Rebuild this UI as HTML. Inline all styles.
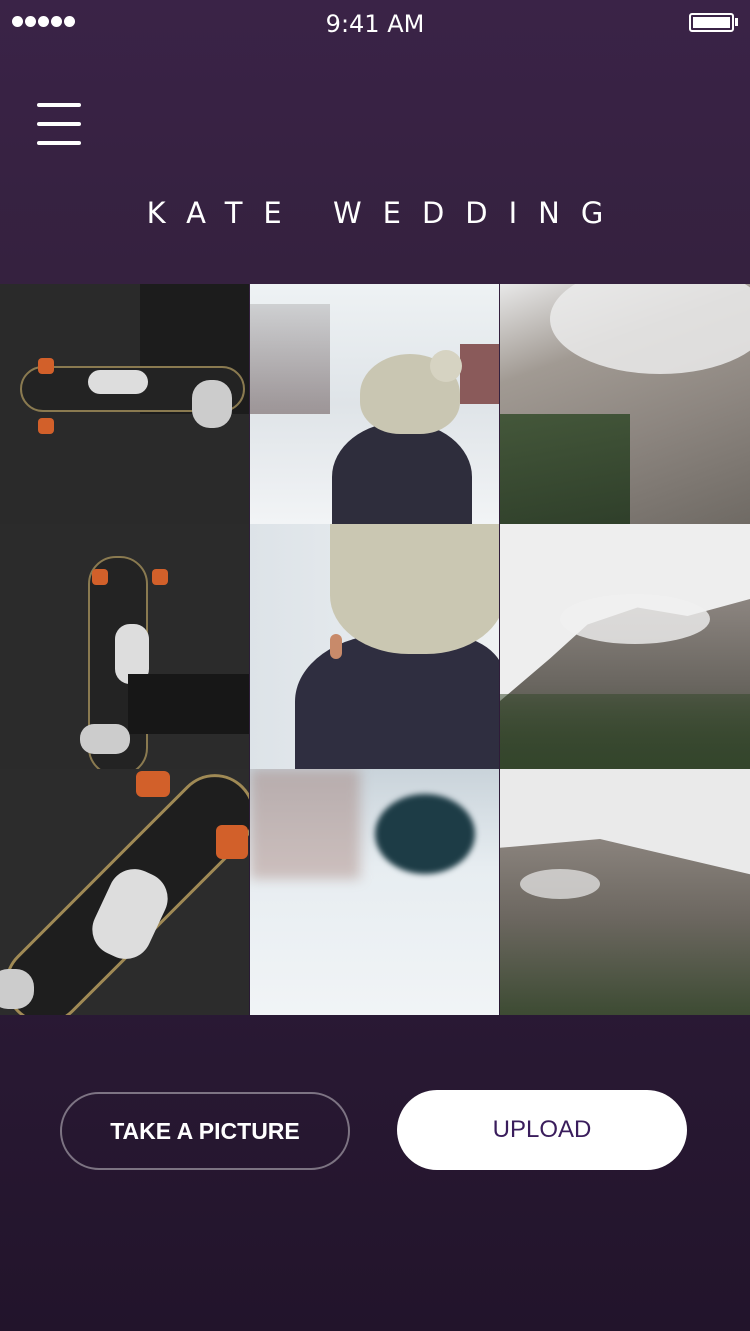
<!DOCTYPE html>
<html><head><meta charset="utf-8">
<style>
*{margin:0;padding:0;box-sizing:border-box}
body{width:750px;height:1331px;overflow:hidden;font-family:"Liberation Sans","DejaVu Sans",sans-serif;background:linear-gradient(180deg,#3a2347 0%,#35213f 20%,#2b1a36 70%,#22142b 100%);position:relative;color:#fff}
.abs{position:absolute}
.cell{position:absolute;overflow:hidden}
</style></head><body>
<div class="abs" style="left:0;top:0;width:750px;height:44px">
  <div class="abs" style="left:12px;top:16px;font-size:0">
    <span style="display:inline-block;width:11px;height:11px;border-radius:50%;background:#fff;margin-right:2px"></span><span style="display:inline-block;width:11px;height:11px;border-radius:50%;background:#fff;margin-right:2px"></span><span style="display:inline-block;width:11px;height:11px;border-radius:50%;background:#fff;margin-right:2px"></span><span style="display:inline-block;width:11px;height:11px;border-radius:50%;background:#fff;margin-right:2px"></span><span style="display:inline-block;width:11px;height:11px;border-radius:50%;background:#fff"></span>
  </div>
  <div class="abs" style="left:0;width:750px;top:10px;text-align:center;font-size:24px;font-family:'DejaVu Sans',sans-serif">9:41 AM</div>
  <div class="abs" style="left:689px;top:13px;width:45px;height:19px;border:2px solid #fff;border-radius:3px;padding:2px"><div style="width:100%;height:100%;background:#fff"></div></div>
  <div class="abs" style="left:735px;top:18px;width:3px;height:8px;background:#fff"></div>
</div>
<div class="abs" style="left:37px;top:103px;width:44px;height:44px">
  <div class="abs" style="left:0;top:0;width:44px;height:4px;background:#fff;border-radius:2px"></div>
  <div class="abs" style="left:0;top:19px;width:44px;height:4px;background:#fff;border-radius:2px"></div>
  <div class="abs" style="left:0;top:38px;width:44px;height:4px;background:#fff;border-radius:2px"></div>
</div>
<div class="abs" style="left:0;width:750px;top:196px;text-align:center;font-size:29px;letter-spacing:21px;padding-left:21px;font-family:'DejaVu Sans',sans-serif">KATE WEDDING</div>

<div class="abs" style="left:0;top:284px;width:750px;height:731px">
 <div class="cell" style="left:0;top:0;width:249px;height:240px;background:#2a2a2a">
   <div class="abs" style="left:140px;top:0;width:109px;height:130px;background:#1c1c1c"></div>
   <div class="abs" style="left:20px;top:82px;width:225px;height:46px;border-radius:23px;background:#232323;border:2px solid #8a7a50"></div>
   <div class="abs" style="left:38px;top:74px;width:16px;height:16px;border-radius:4px;background:#d2602a"></div>
   <div class="abs" style="left:38px;top:134px;width:16px;height:16px;border-radius:4px;background:#d2602a"></div>
   <div class="abs" style="left:88px;top:86px;width:60px;height:24px;border-radius:12px;background:#ddd"></div>
   <div class="abs" style="left:192px;top:96px;width:40px;height:48px;border-radius:18px;background:#ccc"></div>
 </div>
 <div class="cell" style="left:250px;top:0;width:249px;height:240px;background:linear-gradient(180deg,#eef2f4 0%,#dfe4e8 50%,#f2f4f6 100%)">
   <div class="abs" style="left:0;top:20px;width:80px;height:110px;background:linear-gradient(180deg,rgba(90,80,80,.2),rgba(90,70,70,.5))"></div>
   <div class="abs" style="left:210px;top:60px;width:40px;height:60px;background:#8a5a5a"></div>
   <div class="abs" style="left:82px;top:138px;width:140px;height:110px;border-radius:50% 50% 0 0;background:#2e2d3c"></div>
   <div class="abs" style="left:110px;top:70px;width:100px;height:80px;border-radius:50% 50% 40% 40%;background:#c9c6b2"></div>
   <div class="abs" style="left:180px;top:66px;width:32px;height:32px;border-radius:50%;background:#d6d3c2"></div>
 </div>
 <div class="cell" style="left:500px;top:0;width:250px;height:240px;background:linear-gradient(160deg,#e8e8e8 0%,#a19a93 30%,#8d8680 60%,#6f6a64 100%)">
   <div class="abs" style="left:50px;top:-20px;width:220px;height:110px;border-radius:50%;background:rgba(235,235,235,.85)"></div>
   <div class="abs" style="left:0;top:130px;width:130px;height:110px;background:linear-gradient(170deg,#44573a,#2f3f2a)"></div>
 </div>
 <div class="cell" style="left:0;top:240px;width:249px;height:245px;background:#2b2b2b">
   <div class="abs" style="left:88px;top:32px;width:60px;height:220px;border-radius:28px;background:#232323;border:2px solid #8a7a50"></div>
   <div class="abs" style="left:92px;top:45px;width:16px;height:16px;border-radius:4px;background:#d2602a"></div>
   <div class="abs" style="left:152px;top:45px;width:16px;height:16px;border-radius:4px;background:#d2602a"></div>
   <div class="abs" style="left:115px;top:100px;width:34px;height:60px;border-radius:15px;background:#ddd"></div>
   <div class="abs" style="left:128px;top:150px;width:121px;height:60px;background:#171717"></div>
   <div class="abs" style="left:80px;top:200px;width:50px;height:30px;border-radius:14px;background:#ccc"></div>
 </div>
 <div class="cell" style="left:250px;top:240px;width:249px;height:245px;background:linear-gradient(90deg,#dde3e8,#eef1f3)">
   <div class="abs" style="left:45px;top:110px;width:210px;height:150px;border-radius:45% 30% 0 0;background:#2f2e40"></div>
   <div class="abs" style="left:80px;top:0;width:175px;height:130px;border-radius:0 0 45% 45%;background:#cac7b2"></div>
   <div class="abs" style="left:80px;top:110px;width:12px;height:25px;border-radius:6px;background:#c88a6a"></div>
 </div>
 <div class="cell" style="left:500px;top:240px;width:250px;height:245px;background:#eeeeee">
   <div class="abs" style="left:0;top:75px;width:250px;height:170px;background:linear-gradient(180deg,#8c8580,#6a6660 50%,#3c4a32 100%);clip-path:polygon(0 60%,20% 35%,35% 15%,55% 5%,75% 10%,100% 0,100% 100%,0 100%)"></div>
   <div class="abs" style="left:60px;top:70px;width:150px;height:50px;border-radius:50%;background:rgba(240,240,240,.8)"></div>
   <div class="abs" style="left:0;top:170px;width:250px;height:75px;background:linear-gradient(180deg,rgba(50,70,40,.5),#34452c)"></div>
 </div>
 <div class="cell" style="left:0;top:485px;width:249px;height:246px;background:#2c2c2c">
   <div class="abs" style="left:-30px;top:90px;width:320px;height:80px;border-radius:40px;background:#1e1e1e;border:3px solid #a08a55;transform:rotate(-45deg)"></div>
   <div class="abs" style="left:136px;top:2px;width:34px;height:26px;border-radius:6px;background:#d2602a"></div>
   <div class="abs" style="left:216px;top:56px;width:32px;height:34px;border-radius:6px;background:#d2602a"></div>
   <div class="abs" style="left:100px;top:100px;width:60px;height:90px;border-radius:26px;background:#ddd;transform:rotate(25deg)"></div>
   <div class="abs" style="left:-10px;top:200px;width:44px;height:40px;border-radius:18px;background:#ccc"></div>
 </div>
 <div class="cell" style="left:250px;top:485px;width:249px;height:246px;background:linear-gradient(180deg,#c9d3da 0%,#e7edf1 40%,#f1f4f6 100%)">
   <div class="abs" style="left:0;top:0;width:110px;height:110px;background:rgba(150,100,90,.35);filter:blur(6px)"></div>
   <div class="abs" style="left:125px;top:25px;width:100px;height:80px;border-radius:50%;background:#1d3c46;filter:blur(3px)"></div>
 </div>
 <div class="cell" style="left:500px;top:485px;width:250px;height:246px;background:#eaeaea">
   <div class="abs" style="left:0;top:70px;width:250px;height:176px;background:linear-gradient(180deg,#8a837d,#6c6760 45%,#3d4b33 100%);clip-path:polygon(0 5%,40% 0,70% 10%,100% 20%,100% 100%,0 100%)"></div>
   <div class="abs" style="left:20px;top:100px;width:80px;height:30px;border-radius:50%;background:rgba(235,235,235,.7)"></div>
 </div>
</div>

<div class="abs" style="left:60px;top:1092px;width:290px;height:78px;border:2px solid rgba(255,255,255,.4);border-radius:39px;text-align:center;line-height:74px;font-size:23px;font-weight:bold;color:#fff">TAKE A PICTURE</div>
<div class="abs" style="left:397px;top:1090px;width:290px;height:80px;background:#fff;border-radius:40px;text-align:center;line-height:80px;font-size:24px;color:#3a1d5c">UPLOAD</div>
</body></html>
